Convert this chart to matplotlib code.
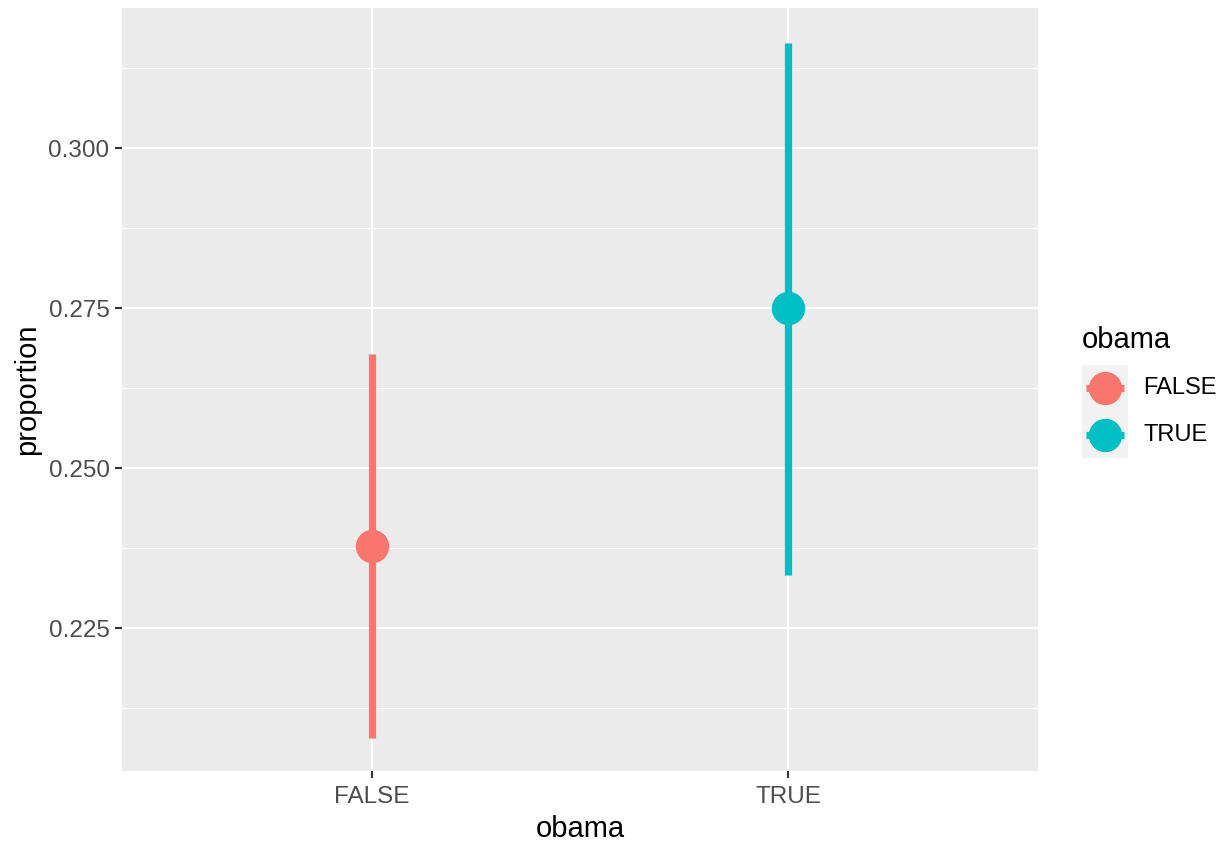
import matplotlib
matplotlib.use("Agg")
import matplotlib.pyplot as plt

plt.rcParams['font.family'] = ['Liberation Sans', 'DejaVu Sans']

# data
groups = ["FALSE", "TRUE"]
prop = [0.2378, 0.2750]
lower = [0.2078, 0.2333]
upper = [0.2678, 0.3164]
colors = ["#F8766D", "#00BFC4"]

W, H = 1223, 841
fig = plt.figure(figsize=(W / 100, H / 100), dpi=100)
fig.patch.set_facecolor("white")

def px(l, t, r, b):
    # pixel box -> figure fraction rect
    return [l / W, (H - b) / H, (r - l) / W, (b - t) / H]

# main panel
ax = fig.add_axes(px(122, 8, 1038, 771))
ax.set_facecolor("#EBEBEB")
for s in ax.spines.values():
    s.set_visible(False)

xs = list(range(1, len(groups) + 1))
for x, p, lo, hi, c in zip(xs, prop, lower, upper, colors):
    ax.plot([x, x], [lo, hi], color=c, lw=5.2, solid_capstyle="butt", zorder=3)
    ax.plot(x, p, "o", color=c, ms=23, mec=c, zorder=4)

ax.set_xlim(0.4, 2.6)
ax.set_ylim(0.20266, 0.321875)
ax.set_xticks(xs)
ax.set_xticklabels(groups)
yt = [0.225, 0.250, 0.275, 0.300]
ax.set_yticks(yt)
ax.set_yticklabels(["%.3f" % v for v in yt])
ax.set_yticks([0.2125, 0.2375, 0.2625, 0.2875, 0.3125], minor=True)
ax.set_xticks([], minor=True)

ax.grid(True, which="major", color="white", lw=1.5, zorder=0)
ax.grid(True, which="minor", axis="y", color="white", lw=0.75, zorder=0)
ax.set_axisbelow(True)
ax.tick_params(which="major", length=5, width=1.5, color="#333333",
               labelcolor="#4D4D4D", labelsize=17.5, pad=4)
ax.tick_params(axis="x", which="major", pad=6)
ax.tick_params(which="minor", length=0)

ax.set_xlabel("obama", fontsize=21, color="black", labelpad=5)
ax.set_ylabel("proportion", fontsize=21, color="black", labelpad=5)

# legend drawn by hand, ggplot style
lax = fig.add_axes(px(1082, 365, 1128, 458))
lax.set_facecolor("#F2F2F2")
lax.set_xlim(0, 1)
lax.set_ylim(0, len(groups))
lax.set_xticks([])
lax.set_yticks([])
for s in lax.spines.values():
    s.set_visible(False)
for i, (g, c) in enumerate(zip(groups, colors)):
    yk = len(groups) - i - 0.5
    lax.plot([0.08, 0.92], [yk, yk], color=c, lw=5.2, solid_capstyle="butt")
    lax.plot(0.5, yk, "o", color=c, ms=23, mec=c)
    fig.text(1143 / W, 1 - (365 + 46.5 * (i + 0.5)) / H, g, fontsize=17,
             va="center", ha="left", color="black")
fig.text(1082 / W, 1 - 340 / H, "obama", fontsize=21, va="center", ha="left")

fig.savefig("out.png", dpi=100)
